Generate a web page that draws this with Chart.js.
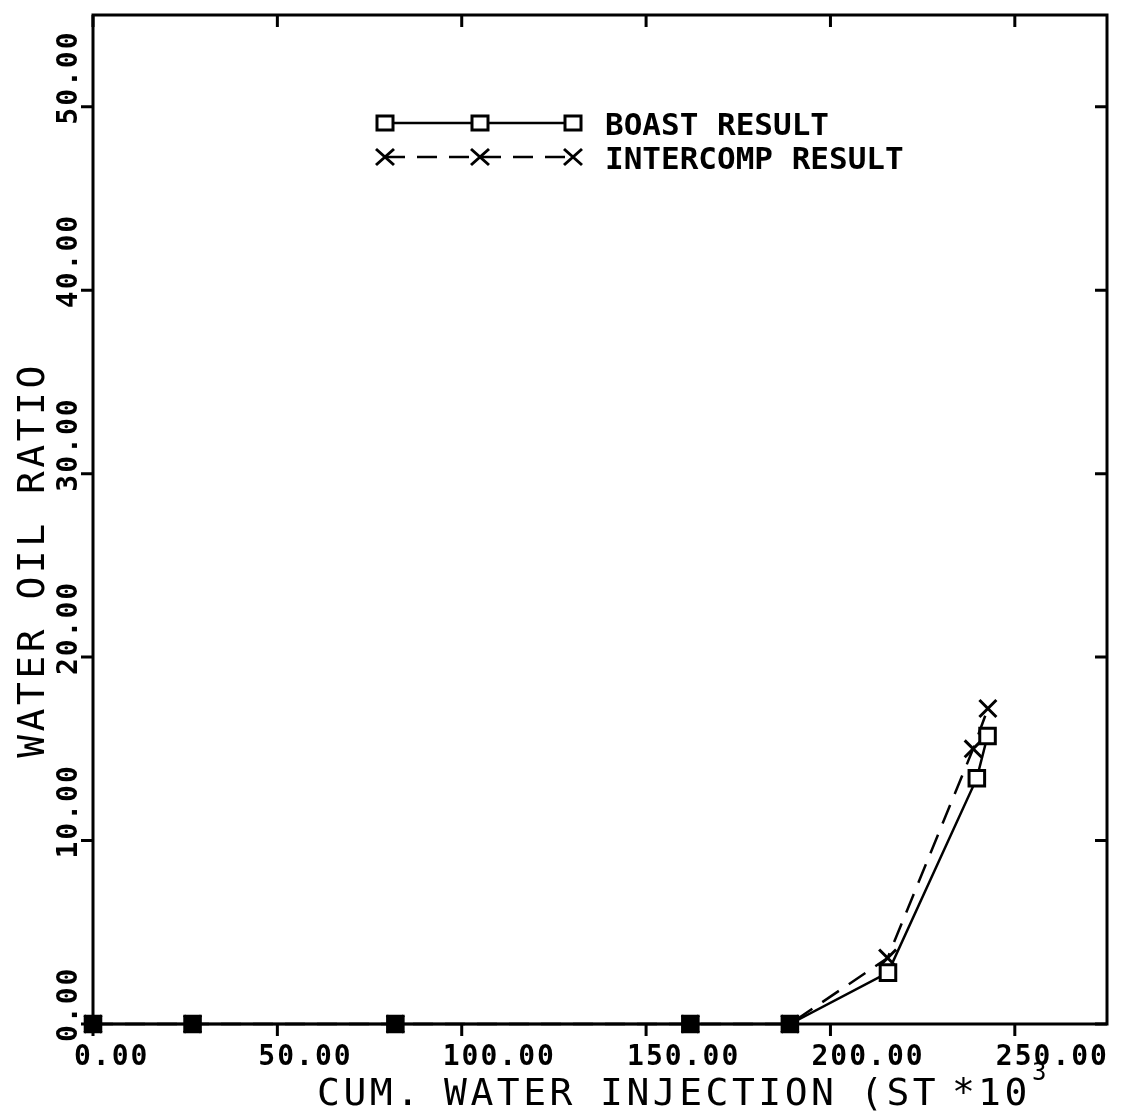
<!DOCTYPE html>
<html>
<head>
<meta charset="utf-8">
<script src="https://cdn.jsdelivr.net/npm/chart.js@4/dist/chart.umd.min.js"></script>
<style>
  html, body { margin: 0; padding: 0; background: #fff; }
  #wrap { width: 1122px; height: 1117px; position: relative; }
</style>
</head>
<body>
<div id="wrap"><canvas id="woc"></canvas></div>
<script>
// values
const boastX = [0, 27, 82, 162, 189, 215.6, 239.7, 242.6];
const boastY = [0, 0, 0, 0, 0, 2.8, 13.4, 15.7];
const interX = [0, 27, 82, 162, 189, 215.5, 238.7, 242.7];
const interY = [0, 0, 0, 0, 0, 3.6, 15.0, 17.2];
const xTicks = [0, 50, 100, 150, 200, 250];
const yTicks = [0, 10, 20, 30, 40, 50];
const seriesNames = ['BOAST RESULT', 'INTERCOMP RESULT'];

const FONT = '"DejaVu Sans Mono", monospace';

const toPts = (xs, ys) => xs.map((x, i) => ({ x: x, y: ys[i] }));

// frame, ticks, labels, titles and legend in the old plotter style
const plotterDeco = {
  id: 'plotterDeco',
  afterDraw(chart) {
    const { ctx, chartArea: a, scales } = chart;
    const xs = scales.x, ys = scales.y;
    ctx.save();
    ctx.strokeStyle = '#000';
    ctx.fillStyle = '#000';
    ctx.lineCap = 'butt';

    // frame
    ctx.lineWidth = 3;
    ctx.strokeRect(a.left, a.top, a.right - a.left, a.bottom - a.top);

    // ticks (outside on left/bottom, inside on top/right)
    xTicks.forEach(v => {
      const px = xs.getPixelForValue(v);
      ctx.beginPath();
      ctx.moveTo(px, a.bottom); ctx.lineTo(px, a.bottom + 12);
      ctx.moveTo(px, a.top); ctx.lineTo(px, a.top + 12);
      ctx.stroke();
    });
    yTicks.forEach(v => {
      const py = ys.getPixelForValue(v);
      ctx.beginPath();
      ctx.moveTo(a.left, py); ctx.lineTo(a.left - 12, py);
      ctx.moveTo(a.right, py); ctx.lineTo(a.right - 12, py);
      ctx.stroke();
    });

    // tick labels
    ctx.font = 'bold 28px ' + FONT;
    ctx.letterSpacing = '2px';
    ctx.textAlign = 'left';
    ctx.textBaseline = 'alphabetic';
    xTicks.forEach(v => {
      const px = xs.getPixelForValue(v);
      ctx.fillText(v.toFixed(2), px - 19, a.bottom + 41);
    });
    yTicks.forEach(v => {
      const py = ys.getPixelForValue(v);
      ctx.save();
      ctx.translate(a.left - 16, py + 18);
      ctx.rotate(-Math.PI / 2);
      ctx.fillText(v.toFixed(2), 0, 0);
      ctx.restore();
    });

    // axis titles
    ctx.font = '38px ' + FONT;
    ctx.letterSpacing = '3.5px';
    const tY = a.bottom + 81;
    [['CUM.', 317], ['WATER', 444], ['INJECTION', 600], ['(ST', 860], ['*', 952], ['10', 978]].forEach(([t, x]) => {
      ctx.fillText(t, x, tY);
    });
    ctx.letterSpacing = '0px';
    ctx.font = '24px ' + FONT;
    ctx.fillText('3', 1032, tY - 25);

    ctx.font = '38px ' + FONT;
    ctx.letterSpacing = '3.5px';
    ctx.save();
    ctx.translate(44, 560);
    ctx.rotate(-Math.PI / 2);
    ctx.textAlign = 'center';
    ctx.fillText('WATER OIL RATIO', 0, 0);
    ctx.restore();
    ctx.letterSpacing = '0px';

    // legend
    const legY = [123, 157];
    const marks = [385, 480, 573];
    ctx.lineWidth = 2.5;
    ctx.beginPath();
    ctx.moveTo(marks[0], legY[0]); ctx.lineTo(marks[2], legY[0]);
    ctx.stroke();
    ctx.setLineDash([20, 12]);
    ctx.beginPath();
    ctx.moveTo(marks[0], legY[1]); ctx.lineTo(marks[2], legY[1]);
    ctx.stroke();
    ctx.setLineDash([]);
    ctx.lineWidth = 3;
    marks.forEach(mx => {
      ctx.fillStyle = '#fff';
      ctx.fillRect(mx - 8, legY[0] - 7, 16, 14);
      ctx.strokeRect(mx - 8, legY[0] - 7, 16, 14);
      ctx.beginPath();
      ctx.moveTo(mx - 9, legY[1] - 8); ctx.lineTo(mx + 9, legY[1] + 8);
      ctx.moveTo(mx - 9, legY[1] + 8); ctx.lineTo(mx + 9, legY[1] - 8);
      ctx.stroke();
    });
    ctx.fillStyle = '#000';
    ctx.font = 'bold 31px ' + FONT;
    ctx.fillText(seriesNames[0], 605, legY[0] + 12);
    ctx.fillText(seriesNames[1], 605, legY[1] + 12);

    ctx.restore();
  }
};

new Chart(document.getElementById('woc'), {
  type: 'scatter',
  data: {
    datasets: [
      {
        label: seriesNames[0],
        data: toPts(boastX, boastY),
        showLine: true,
        borderColor: '#000',
        borderWidth: 2.5,
        pointStyle: 'rect',
        pointRadius: 11,
        pointBorderWidth: 3,
        pointBorderColor: '#000',
        pointBackgroundColor: c => (c.raw && c.raw.y === 0) ? '#000' : '#fff',
        clip: false
      },
      {
        label: seriesNames[1],
        data: toPts(interX, interY),
        showLine: true,
        borderColor: '#000',
        borderWidth: 2.5,
        borderDash: [20, 12],
        pointStyle: 'crossRot',
        pointRadius: 12,
        pointBorderWidth: 3,
        pointBorderColor: '#000',
        clip: false
      }
    ]
  },
  options: {
    responsive: true,
    maintainAspectRatio: false,
    animation: false,
    devicePixelRatio: 1,
    layout: { padding: { top: 13, right: 11, left: 0, bottom: 0 } },
    plugins: { legend: { display: false }, tooltip: { enabled: false } },
    scales: {
      x: {
        type: 'linear', min: 0, max: 275,
        grid: { display: false }, border: { display: false },
        ticks: { display: false },
        afterFit: s => { s.height = 93; }
      },
      y: {
        type: 'linear', min: 0, max: 55,
        grid: { display: false }, border: { display: false },
        ticks: { display: false },
        afterFit: s => { s.width = 93; }
      }
    }
  },
  plugins: [plotterDeco]
});
</script>
</body>
</html>
